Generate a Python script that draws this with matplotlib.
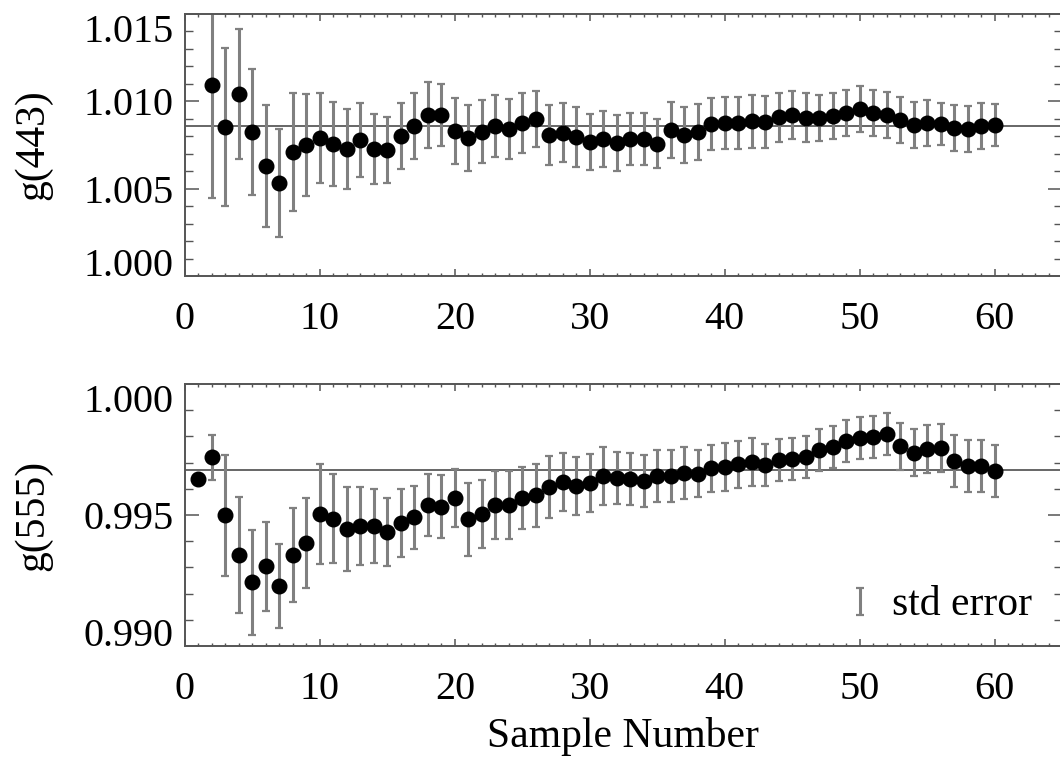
import numpy as np
import matplotlib
matplotlib.use('Agg')
import matplotlib.pyplot as plt
from matplotlib.container import ErrorbarContainer
from matplotlib.legend_handler import HandlerErrorbar

plt.rcParams['font.family'] = ['Liberation Serif', 'DejaVu Serif']

#Sample numbers for each panel
samples443 = np.arange(2, 61)
samples555 = np.arange(1, 61)

#g(443) running values and std error
g443 = [1.01094, 1.00853, 1.01042, 1.00825, 1.0063, 1.00533, 1.0071, 1.0075, 1.0079,
        1.00756, 1.00727, 1.00779, 1.00727, 1.00722, 1.00802, 1.00859, 1.00922, 1.00922,
        1.0083, 1.0079, 1.00825, 1.00859, 1.00842, 1.00876, 1.00899, 1.00808, 1.0082,
        1.00796, 1.00767, 1.00785, 1.00762, 1.00785, 1.00785, 1.00756, 1.00836, 1.00808,
        1.00825, 1.0087, 1.00876, 1.00876, 1.00885, 1.00882, 1.0091, 1.00922, 1.00905,
        1.00905, 1.00916, 1.00933, 1.00956, 1.00933, 1.00922, 1.00893, 1.00865, 1.00876,
        1.0087, 1.00847, 1.00842, 1.00859, 1.00865]
err443 = [0.0065, 0.0045, 0.0037, 0.0036, 0.0035, 0.0031, 0.0034, 0.0029, 0.0026,
          0.0024, 0.0023, 0.0021, 0.0020, 0.0019, 0.0019, 0.0019, 0.0019, 0.0018,
          0.0019, 0.0019, 0.0018, 0.0018, 0.0017, 0.0017, 0.0016, 0.0017, 0.0017,
          0.0017, 0.0016, 0.0016, 0.0016, 0.0015, 0.0015, 0.0014, 0.0016, 0.0016,
          0.0016, 0.0015, 0.0015, 0.0015, 0.0015, 0.0015, 0.0014, 0.0014, 0.0014,
          0.0013, 0.0013, 0.0013, 0.0013, 0.0013, 0.0013, 0.0013, 0.0013, 0.0013,
          0.0012, 0.0013, 0.0013, 0.0013, 0.0012]
mean443 = 1.0086

#g(555) running values and std error
g555 = [0.99636, 0.9972, 0.99499, 0.99347, 0.99243, 0.99305, 0.99229, 0.99347, 0.99393,
        0.99504, 0.99485, 0.99447, 0.99458, 0.99458, 0.99435, 0.9947, 0.99492, 0.99538,
        0.99531, 0.99565, 0.99483, 0.99504, 0.99538, 0.99538, 0.99565, 0.99576, 0.99607,
        0.99626, 0.99611, 0.99622, 0.99649, 0.99641, 0.99637, 0.9963, 0.99649, 0.99649,
        0.9966, 0.99658, 0.99678, 0.99683, 0.99694, 0.99702, 0.99691, 0.9971, 0.99714,
        0.99722, 0.99748, 0.99759, 0.99782, 0.99794, 0.99798, 0.99809, 0.99763, 0.99737,
        0.99752, 0.99756, 0.99706, 0.99687, 0.99687, 0.99668]
err555 = [0.0, 0.00086, 0.0023, 0.0022, 0.0020, 0.0017, 0.0016, 0.0018, 0.0017,
          0.0019, 0.0017, 0.0016, 0.0015, 0.0014, 0.0013, 0.0013, 0.0012, 0.0012,
          0.0012, 0.0011, 0.0014, 0.0013, 0.0013, 0.0013, 0.0012, 0.0012, 0.0012,
          0.0011, 0.0011, 0.0011, 0.0011, 0.0010, 0.0010, 0.0010, 0.0010, 0.0010,
          0.0010, 0.0009, 0.0009, 0.0009, 0.0009, 0.0009, 0.0008, 0.0008, 0.0008,
          0.0008, 0.0008, 0.0008, 0.0008, 0.0008, 0.0008, 0.0008, 0.0009, 0.0009,
          0.0009, 0.0009, 0.0010, 0.0010, 0.0010, 0.0010]
mean555 = 0.99672

xTicks = [0, 10, 20, 30, 40, 50, 60]
yTicks443 = [1.000, 1.005, 1.010, 1.015]
yTicks555 = [0.990, 0.995, 1.000]

axisColor = '#555555'
errColor = '#808080'

fig = plt.figure(figsize=(10.6, 7.61), dpi=100)
#Two panels, placed by pixel measurements of the original
ax1 = fig.add_axes([185/1060, 1-276/761, 877/1060, 262/761])
ax2 = fig.add_axes([185/1060, 1-646/761, 877/1060, 262/761])

panels = [
    (ax1, samples443, g443, err443, mean443, yTicks443, (1.000, 1.015)),
    (ax2, samples555, g555, err555, mean555, yTicks555, (0.990, 1.000)),
]

for ax, xs, ys, es, mean, yt, ylim in panels:
    ax.axhline(mean, color='#666666', lw=1.4, zorder=1)
    ax.errorbar(xs, ys, yerr=es, fmt='none', ecolor=errColor, elinewidth=2.2,
                capsize=3.2, capthick=1.6, zorder=2, label='std error')
    ax.plot(xs, ys, 'o', color='black', markersize=10.5, zorder=3)

    ax.set_xticks(xTicks)
    ax.set_xticks(np.arange(0, 66, 1), minor=True)
    ax.set_yticks(yt)
    ax.set_yticks(np.linspace(ylim[0], ylim[1], int(round((ylim[1]-ylim[0])/0.001)) + 1), minor=True)
    ax.set_yticklabels(['%.3f' % v for v in yt])
    ax.set_xlim(0, 65)
    ax.set_ylim(*ylim)

    ax.tick_params(axis='both', which='both', direction='in', top=True, right=True,
                   color=axisColor, labelsize=29, labelcolor='black')
    ax.tick_params(axis='x', which='major', length=5, width=1.1, pad=18)
    ax.tick_params(axis='x', which='minor', length=2.5, width=1.0)
    ax.tick_params(axis='y', which='major', length=10, width=1.1, pad=8)
    ax.tick_params(axis='y', which='minor', length=6, width=1.0)
    for s in ax.spines.values():
        s.set_color(axisColor)
        s.set_linewidth(1.4)

    #IDL style: end labels pulled inside the axis range
    labels = ax.get_yticklabels()
    labels[0].set_verticalalignment('baseline')
    labels[-1].set_verticalalignment('top')

fig.text(33/1060, 1-145/761, 'g(443)', rotation=90, ha='center', va='center', fontsize=30)
fig.text(33/1060, 1-515/761, 'g(555)', rotation=90, ha='center', va='center', fontsize=30)
fig.text(623/1060, 1-747/761, 'Sample Number', ha='center', va='baseline', fontsize=30)

ax2.legend(loc='lower right', frameon=False, fontsize=30, handlelength=0.5,
           handleheight=0.45, handletextpad=0.5, bbox_to_anchor=(0.994, -0.01),
           borderaxespad=0.2,
           handler_map={ErrorbarContainer: HandlerErrorbar(xerr_size=0.32)})

fig.savefig('out.png', dpi=100)
